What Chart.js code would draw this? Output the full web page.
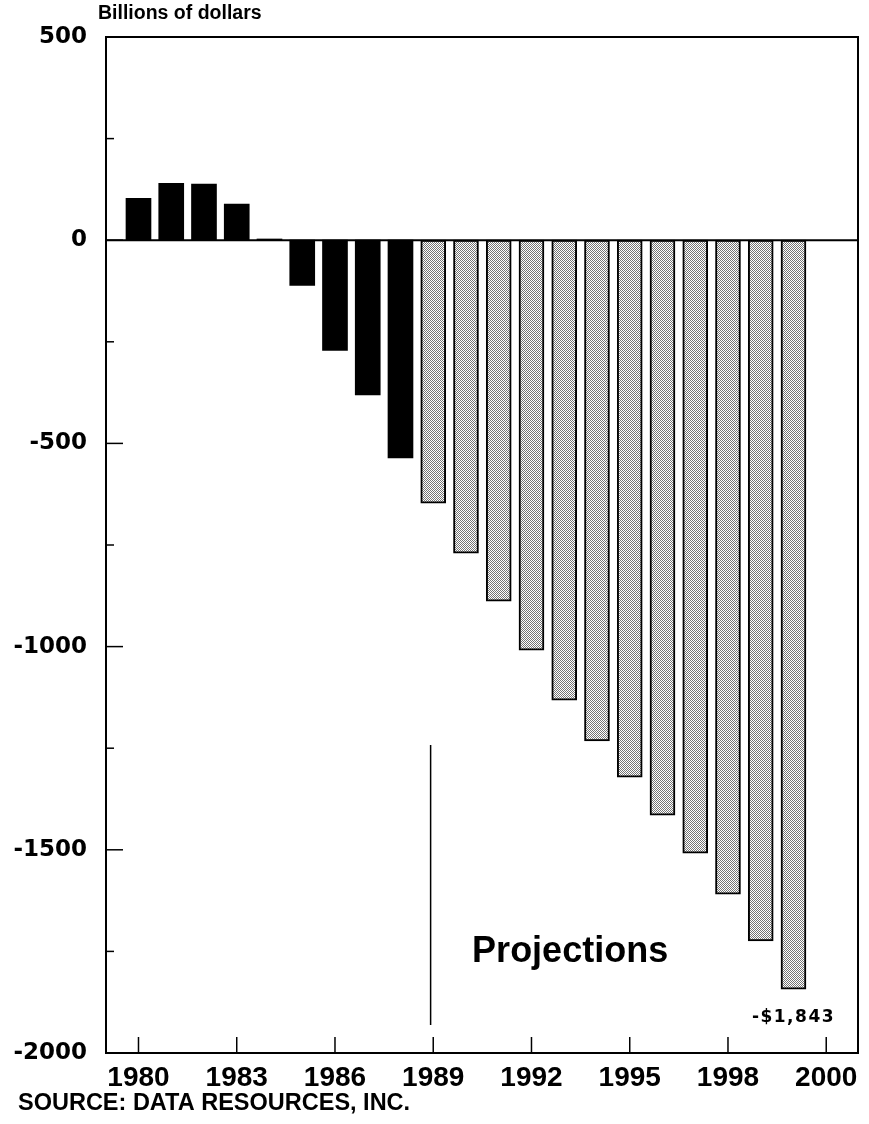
<!DOCTYPE html>
<html>
<head>
<meta charset="utf-8">
<title>Billions of dollars</title>
<script src="https://cdn.jsdelivr.net/npm/chart.js@4.4.1/dist/chart.umd.min.js"></script>
<style>
  html, body { margin: 0; padding: 0; background: #fff; }
  #wrap { width: 869px; height: 1124px; }
</style>
</head>
<body>
<div id="wrap"><canvas id="chart" width="869" height="1124"></canvas></div>
<script>
// Actual balance, 1980-1988
const actualYears = [1980, 1981, 1982, 1983, 1984, 1985, 1986, 1987, 1988];
const actualValues = [103, 140, 138, 89, 3, -111, -271, -381, -536];

// Projections, 1989-2000
const projYears = [1989, 1990, 1991, 1992, 1993, 1994, 1995, 1996, 1997, 1998, 1999, 2000];
const projValues = [-647, -770, -888, -1009, -1132, -1232, -1321, -1415, -1508, -1609, -1724, -1843];

// x axis tick marks (the chart labels its last tick "2000")
const tickYears = [1980, 1983, 1986, 1989, 1992, 1995, 1998, 2001];
const tickLabels = ['1980', '1983', '1986', '1989', '1992', '1995', '1998', '2000'];

const yTickValues = [500, 0, -500, -1000, -1500, -2000];

// stipple fill for projected bars
function makeStipple() {
    const c = document.createElement('canvas');
    c.width = 4;
    c.height = 4;
    const g = c.getContext('2d');
    g.fillStyle = '#fff';
    g.fillRect(0, 0, 4, 4);
    g.fillStyle = '#747474';
    for (let yy = 0; yy < 4; yy++) {
        for (let xx = 0; xx < 4; xx++) {
            if ((xx + yy) % 2 === 0) g.fillRect(xx, yy, 1, 1);
        }
    }
    return g.createPattern(c, 'repeat');
}

const decorations = {
    id: 'decorations',
    afterDatasetsDraw(chart) {
        const ctx = chart.ctx;
        const { left, right, top, bottom } = chart.chartArea;
        const xs = chart.scales.x;
        const ys = chart.scales.y;
        ctx.save();
        ctx.strokeStyle = '#000';

        // frame top and right
        ctx.lineWidth = 2;
        ctx.beginPath();
        ctx.moveTo(left, top);
        ctx.lineTo(right, top);
        ctx.lineTo(right, bottom);
        ctx.stroke();

        // zero line
        const y0 = ys.getPixelForValue(0);
        ctx.beginPath();
        ctx.moveTo(left, y0);
        ctx.lineTo(right, y0);
        ctx.stroke();

        // inward y ticks
        ctx.lineWidth = 1.5;
        ys.ticks.forEach(t => {
            const y = ys.getPixelForValue(t.value);
            const len = t.value % 500 === 0 ? 17 : 8;
            ctx.beginPath();
            ctx.moveTo(left, y);
            ctx.lineTo(left + len, y);
            ctx.stroke();
        });

        // inward x ticks
        xs.ticks.forEach(t => {
            const x = xs.getPixelForValue(t.value);
            ctx.beginPath();
            ctx.moveTo(x, bottom);
            ctx.lineTo(x, bottom - 16);
            ctx.stroke();
        });

        // projections divider
        const xd = xs.getPixelForValue(1988.92);
        ctx.beginPath();
        ctx.moveTo(xd, ys.getPixelForValue(-1242));
        ctx.lineTo(xd, ys.getPixelForValue(-1931));
        ctx.stroke();

        // texts
        ctx.fillStyle = '#000';
        ctx.textBaseline = 'alphabetic';
        ctx.textAlign = 'center';
        ctx.font = 'bold 36px "Liberation Sans", Arial, sans-serif';
        ctx.fillText('Projections', xs.getPixelForValue(1993.18), ys.getPixelForValue(-1775));

        const lastYear = projYears[projYears.length - 1];
        const lastVal = projValues[projValues.length - 1];
        ctx.font = 'bold 17px "DejaVu Sans", sans-serif';
        ctx.letterSpacing = '1.5px';
        ctx.fillText('-$' + Math.abs(lastVal).toLocaleString('en-US'),
            xs.getPixelForValue(lastYear), ys.getPixelForValue(lastVal) + 33);
        ctx.letterSpacing = '0px';

        ctx.textAlign = 'left';
        ctx.font = 'bold 19.5px "Liberation Sans", Arial, sans-serif';
        ctx.fillText('Billions of dollars', 98, 19);
        ctx.font = 'bold 23.5px "Liberation Sans", Arial, sans-serif';
        ctx.fillText('SOURCE: DATA RESOURCES, INC.', 18, 1110);
        ctx.restore();
    }
};

const ctx = document.getElementById('chart').getContext('2d');
new Chart(ctx, {
    type: 'bar',
    data: {
        datasets: [
            {
                label: 'Actual',
                data: actualYears.map((yr, i) => ({ x: yr, y: actualValues[i] })),
                backgroundColor: '#000',
                borderWidth: 0,
                barThickness: 25
            },
            {
                label: 'Projections',
                data: projYears.map((yr, i) => ({ x: yr, y: projValues[i] })),
                backgroundColor: makeStipple(),
                borderColor: '#000',
                borderWidth: 2,
                borderSkipped: false,
                barThickness: 25
            }
        ]
    },
    options: {
        responsive: false,
        animation: false,
        grouped: false,
        layout: { padding: { top: 37, right: 11, left: 0, bottom: 0 } },
        plugins: {
            legend: { display: false },
            tooltip: { enabled: false }
        },
        scales: {
            x: {
                type: 'linear',
                min: 1979.008,
                max: 2001.97,
                offset: false,
                grid: { display: false, drawTicks: false },
                border: { display: true, color: '#000', width: 2 },
                afterBuildTicks: scale => {
                    scale.ticks = tickYears.map(v => ({ value: v }));
                },
                afterFit: scale => { scale.height = 71; },
                ticks: {
                    autoSkip: false,
                    maxRotation: 0,
                    padding: 8,
                    color: '#000',
                    font: { family: '"Liberation Sans", Arial, sans-serif', size: 28, weight: 'bold' },
                    callback: (value, index) => tickLabels[index]
                }
            },
            y: {
                min: -2000,
                max: 500,
                grid: { display: false, drawTicks: false },
                border: { display: true, color: '#000', width: 2 },
                afterFit: scale => { scale.width = 106; },
                ticks: {
                    stepSize: 250,
                    padding: 19,
                    color: '#000',
                    font: { family: '"DejaVu Sans", sans-serif', size: 23, weight: 'bold' },
                    callback: v => yTickValues.includes(v) ? String(v) : ''
                }
            }
        }
    },
    plugins: [decorations]
});
</script>
</body>
</html>
